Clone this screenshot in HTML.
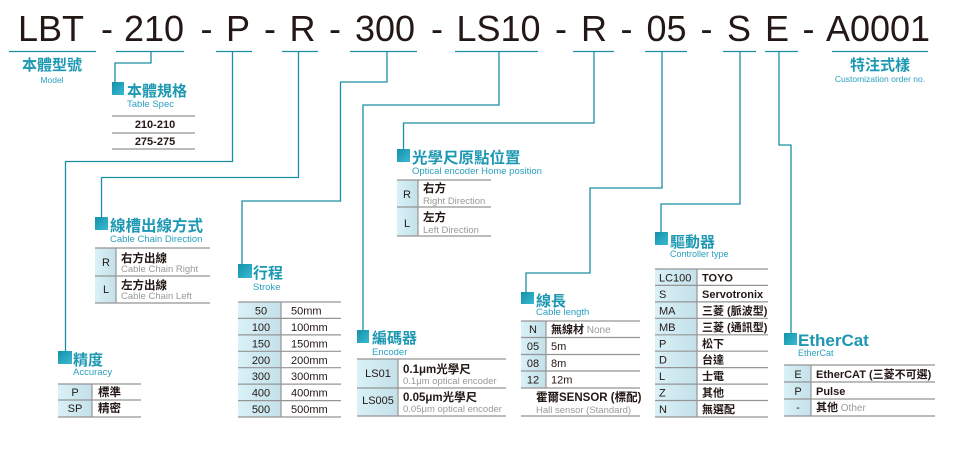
<!DOCTYPE html>
<html>
<head>
<meta charset="utf-8">
<style>
html,body{margin:0;padding:0;background:#fff;}
svg{display:block;}
.t{font-family:"Liberation Sans","Noto Sans CJK TC",sans-serif;fill:#231815;}
.h{font-family:"Liberation Sans","Noto Sans CJK TC",sans-serif;font-weight:bold;fill:#1d98b2;}
.s{font-family:"Liberation Sans","Noto Sans CJK TC",sans-serif;fill:#2aa0bf;}
.c{font-family:"Liberation Sans","Noto Sans CJK TC",sans-serif;fill:#231815;font-size:11px;}
.b{font-family:"Liberation Sans","Noto Sans CJK TC",sans-serif;fill:#231815;font-size:11.5px;font-weight:bold;}
.g{font-family:"Liberation Sans","Noto Sans CJK TC",sans-serif;fill:#999;font-size:9.5px;}
.conn{fill:none;stroke:#1a8fa2;stroke-width:1.3;}
.gl{stroke:#959595;stroke-width:1.2;}
</style>
</head>
<body>
<svg width="960" height="453" viewBox="0 0 960 453" xmlns="http://www.w3.org/2000/svg">
<defs>
<linearGradient id="sq" x1="0" y1="0" x2="1" y2="1">
<stop offset="0" stop-color="#1291a9"/>
<stop offset="1" stop-color="#3cbad3"/>
</linearGradient>
<linearGradient id="cell" x1="0" y1="0" x2="1" y2="0">
<stop offset="0" stop-color="#d9f1f7"/>
<stop offset="1" stop-color="#c4e0e9"/>
</linearGradient>
</defs>

<!-- Title -->
<g class="t" font-size="36" text-anchor="middle">
<text x="51" y="41">LBT</text>
<text x="107" y="41">-</text>
<text x="154" y="41">210</text>
<text x="206.5" y="41">-</text>
<text x="238" y="41">P</text>
<text x="270" y="41">-</text>
<text x="302.5" y="41">R</text>
<text x="335" y="41">-</text>
<text x="385" y="41">300</text>
<text x="437" y="41">-</text>
<text x="498.5" y="41">LS10</text>
<text x="561" y="41">-</text>
<text x="594" y="41">R</text>
<text x="626.5" y="41">-</text>
<text x="666.5" y="41">05</text>
<text x="706.5" y="41">-</text>
<text x="739" y="41">S</text>
<text x="777" y="41">E</text>
<text x="808.5" y="41">-</text>
<text x="878" y="41">A0001</text>
</g>

<!-- underlines -->
<g stroke="#1a8fa2" stroke-width="1.2">
<line x1="9" y1="51.5" x2="96" y2="51.5"/>
<line x1="116" y1="51.5" x2="184" y2="51.5"/>
<line x1="216" y1="51.5" x2="252" y2="51.5"/>
<line x1="282" y1="51.5" x2="318" y2="51.5"/>
<line x1="350" y1="51.5" x2="417" y2="51.5"/>
<line x1="455" y1="51.5" x2="538" y2="51.5"/>
<line x1="573" y1="51.5" x2="614" y2="51.5"/>
<line x1="645" y1="51.5" x2="687" y2="51.5"/>
<line x1="723" y1="51.5" x2="756" y2="51.5"/>
<line x1="765" y1="51.5" x2="798" y2="51.5"/>
<line x1="832" y1="51.5" x2="928" y2="51.5"/>
</g>

<!-- connectors -->
<path class="conn" d="M232.5,52 V161.5 H65.5 V351"/>
<path class="conn" d="M151,52 V63 H115 V82"/>
<path class="conn" d="M298.5,52 V177.5 H101.5 V217"/>
<path class="conn" d="M387,52 V82 H340.5 V201 H242 V264"/>
<path class="conn" d="M499,52 V105 H363 V330"/>
<path class="conn" d="M594,52 V123 H403.5 V149"/>
<path class="conn" d="M662,52 V188 H590 V273 H526 V292"/>
<path class="conn" d="M740,52 V204 H661 V232"/>
<path class="conn" d="M779,52 V145 H791 V333"/>

<!-- 本體型號 -->
<text class="h" x="52" y="70" font-size="15" text-anchor="middle">本體型號</text>
<text class="s" x="52" y="83" font-size="8.5" text-anchor="middle">Model</text>

<!-- 特注式樣 -->
<text class="h" x="880" y="70" font-size="15" text-anchor="middle">特注式樣</text>
<text class="s" x="880" y="82" font-size="8.5" text-anchor="middle">Customization order no.</text>

<!-- 本體規格 -->
<rect x="112" y="82" width="12" height="13" fill="url(#sq)"/>
<text class="h" x="127" y="96" font-size="15">本體規格</text>
<text class="s" x="127" y="107" font-size="9.5">Table Spec</text>
<line class="gl" x1="112" y1="116" x2="195" y2="116"/>
<line class="gl" x1="112" y1="133" x2="195" y2="133"/>
<line class="gl" x1="112" y1="149" x2="195" y2="149"/>
<text class="c" x="155" y="128" text-anchor="middle" font-weight="bold">210-210</text>
<text class="c" x="155" y="145" text-anchor="middle" font-weight="bold">275-275</text>

<!-- 線槽出線方式 -->
<rect x="95" y="217" width="13" height="13" fill="url(#sq)"/>
<text class="h" x="110" y="231" font-size="15.5">線槽出線方式</text>
<text class="s" x="110" y="242" font-size="9.5">Cable Chain Direction</text>
<rect x="95" y="248" width="21" height="55" fill="url(#cell)"/>
<line class="gl" x1="95" y1="248" x2="210" y2="248"/>
<line class="gl" x1="95" y1="276" x2="210" y2="276"/>
<line class="gl" x1="95" y1="303" x2="210" y2="303"/>
<line class="gl" x1="116" y1="248" x2="116" y2="303"/>
<text class="c" x="106" y="266" text-anchor="middle">R</text>
<text class="c" x="106" y="293" text-anchor="middle">L</text>
<text class="b" x="121" y="262">右方出線</text>
<text class="g" x="121" y="272">Cable Chain Right</text>
<text class="b" x="121" y="289">左方出線</text>
<text class="g" x="121" y="299">Cable Chain Left</text>

<!-- 精度 -->
<rect x="58" y="351" width="14" height="13" fill="url(#sq)"/>
<text class="h" x="73" y="365" font-size="15">精度</text>
<text class="s" x="73" y="375" font-size="9.5">Accuracy</text>
<rect x="58" y="384" width="34" height="33" fill="url(#cell)"/>
<line class="gl" x1="58" y1="384" x2="141" y2="384"/>
<line class="gl" x1="58" y1="400" x2="141" y2="400"/>
<line class="gl" x1="58" y1="417" x2="141" y2="417"/>
<line class="gl" x1="92" y1="384" x2="92" y2="417"/>
<text class="c" x="75" y="396" text-anchor="middle">P</text>
<text class="c" x="75" y="412" text-anchor="middle">SP</text>
<text class="b" x="98" y="396" font-size="11">標準</text>
<text class="b" x="98" y="412" font-size="11">精密</text>

<!-- 行程 -->
<rect x="238" y="264" width="14" height="14" fill="url(#sq)"/>
<text class="h" x="253" y="278" font-size="15">行程</text>
<text class="s" x="253" y="290" font-size="9.5">Stroke</text>
<rect x="238" y="302" width="43" height="115" fill="url(#cell)"/>
<g>
<line class="gl" x1="238" y1="302" x2="341" y2="302"/>
<line class="gl" x1="238" y1="318.4" x2="341" y2="318.4"/>
<line class="gl" x1="238" y1="334.9" x2="341" y2="334.9"/>
<line class="gl" x1="238" y1="351.3" x2="341" y2="351.3"/>
<line class="gl" x1="238" y1="367.7" x2="341" y2="367.7"/>
<line class="gl" x1="238" y1="384.1" x2="341" y2="384.1"/>
<line class="gl" x1="238" y1="400.6" x2="341" y2="400.6"/>
<line class="gl" x1="238" y1="417" x2="341" y2="417"/>
<line class="gl" x1="281" y1="302" x2="281" y2="417"/>
</g>
<g class="c" font-size="11.5">
<text x="261" y="314.5" text-anchor="middle">50</text>
<text x="261" y="331" text-anchor="middle">100</text>
<text x="261" y="347.4" text-anchor="middle">150</text>
<text x="261" y="363.8" text-anchor="middle">200</text>
<text x="261" y="380.2" text-anchor="middle">300</text>
<text x="261" y="396.6" text-anchor="middle">400</text>
<text x="261" y="413" text-anchor="middle">500</text>
<text x="291" y="314.5">50mm</text>
<text x="291" y="331">100mm</text>
<text x="291" y="347.4">150mm</text>
<text x="291" y="363.8">200mm</text>
<text x="291" y="380.2">300mm</text>
<text x="291" y="396.6">400mm</text>
<text x="291" y="413">500mm</text>
</g>

<!-- 編碼器 -->
<rect x="357" y="330" width="12" height="13" fill="url(#sq)"/>
<text class="h" x="372" y="343" font-size="15">編碼器</text>
<text class="s" x="372" y="355" font-size="9.5">Encoder</text>
<rect x="357" y="359" width="41" height="57" fill="url(#cell)"/>
<line class="gl" x1="357" y1="359" x2="506" y2="359"/>
<line class="gl" x1="357" y1="388" x2="506" y2="388"/>
<line class="gl" x1="357" y1="416" x2="506" y2="416"/>
<line class="gl" x1="398" y1="359" x2="398" y2="416"/>
<text class="c" x="378" y="377" text-anchor="middle">LS01</text>
<text class="c" x="378" y="404" text-anchor="middle">LS005</text>
<text class="b" x="403" y="373" font-size="12">0.1μm光學尺</text>
<text class="g" x="403" y="384">0.1μm optical encoder</text>
<text class="b" x="403" y="401" font-size="12">0.05μm光學尺</text>
<text class="g" x="403" y="412">0.05μm optical encoder</text>

<!-- 光學尺原點位置 -->
<rect x="397" y="149" width="13" height="13" fill="url(#sq)"/>
<text class="h" x="412" y="163" font-size="15.5">光學尺原點位置</text>
<text class="s" x="412" y="174" font-size="9.5">Optical encoder Home position</text>
<rect x="397" y="180" width="21" height="56" fill="url(#cell)"/>
<line class="gl" x1="397" y1="180" x2="491" y2="180"/>
<line class="gl" x1="397" y1="207" x2="491" y2="207"/>
<line class="gl" x1="397" y1="236" x2="491" y2="236"/>
<line class="gl" x1="418" y1="180" x2="418" y2="236"/>
<text class="c" x="407" y="198" text-anchor="middle">R</text>
<text class="c" x="407" y="227" text-anchor="middle">L</text>
<text class="b" x="423" y="192" font-size="11">右方</text>
<text class="g" x="423" y="204">Right Direction</text>
<text class="b" x="423" y="221" font-size="11">左方</text>
<text class="g" x="423" y="233">Left Direction</text>

<!-- 線長 -->
<rect x="521" y="292" width="13" height="12" fill="url(#sq)"/>
<text class="h" x="536" y="306" font-size="15">線長</text>
<text class="s" x="536" y="315" font-size="9.5">Cable length</text>
<rect x="521" y="321" width="25" height="67" fill="url(#cell)"/>
<line class="gl" x1="521" y1="321" x2="640" y2="321"/>
<line class="gl" x1="521" y1="337.5" x2="640" y2="337.5"/>
<line class="gl" x1="521" y1="354.5" x2="640" y2="354.5"/>
<line class="gl" x1="521" y1="371" x2="640" y2="371"/>
<line class="gl" x1="521" y1="388" x2="640" y2="388"/>
<line class="gl" x1="521" y1="416" x2="640" y2="416"/>
<line class="gl" x1="546" y1="321" x2="546" y2="388"/>
<g class="c" font-size="11.5">
<text x="533" y="333" text-anchor="middle">N</text>
<text x="533" y="350" text-anchor="middle">05</text>
<text x="533" y="367" text-anchor="middle">08</text>
<text x="533" y="383.5" text-anchor="middle">12</text>
<text x="551" y="333" font-weight="bold">無線材<tspan fill="#999" font-weight="normal" font-size="10"> None</tspan></text>
<text x="551" y="350">5m</text>
<text x="551" y="367">8m</text>
<text x="551" y="383.5">12m</text>
</g>
<text class="b" x="536" y="401" font-size="11.5">霍爾SENSOR (標配)</text>
<text class="g" x="536" y="413">Hall sensor (Standard)</text>

<!-- 驅動器 -->
<rect x="655" y="232" width="13" height="13" fill="url(#sq)"/>
<text class="h" x="670" y="247" font-size="15">驅動器</text>
<text class="s" x="670" y="257" font-size="9">Controller type</text>
<rect x="655" y="269" width="42" height="148" fill="url(#cell)"/>
<g>
<line class="gl" x1="655" y1="269" x2="768" y2="269"/>
<line class="gl" x1="655" y1="285.4" x2="768" y2="285.4"/>
<line class="gl" x1="655" y1="301.9" x2="768" y2="301.9"/>
<line class="gl" x1="655" y1="318.3" x2="768" y2="318.3"/>
<line class="gl" x1="655" y1="334.8" x2="768" y2="334.8"/>
<line class="gl" x1="655" y1="351.2" x2="768" y2="351.2"/>
<line class="gl" x1="655" y1="367.6" x2="768" y2="367.6"/>
<line class="gl" x1="655" y1="384.1" x2="768" y2="384.1"/>
<line class="gl" x1="655" y1="400.5" x2="768" y2="400.5"/>
<line class="gl" x1="655" y1="417" x2="768" y2="417"/>
<line class="gl" x1="697" y1="269" x2="697" y2="417"/>
</g>
<g class="c" font-size="11">
<text x="659" y="281.5">LC100</text>
<text x="659" y="298">S</text>
<text x="659" y="314.4">MA</text>
<text x="659" y="330.8">MB</text>
<text x="659" y="347.3">P</text>
<text x="659" y="363.7">D</text>
<text x="659" y="380.1">L</text>
<text x="659" y="396.6">Z</text>
<text x="659" y="413">N</text>
</g>
<g class="c" font-size="11" font-weight="bold">
<text x="702" y="281.5">TOYO</text>
<text x="702" y="298">Servotronix</text>
<text x="702" y="314.4">三菱 (脈波型)</text>
<text x="702" y="330.8">三菱 (通訊型)</text>
<text x="702" y="347.3">松下</text>
<text x="702" y="363.7">台達</text>
<text x="702" y="380.1">士電</text>
<text x="702" y="396.6">其他</text>
<text x="702" y="413">無選配</text>
</g>

<!-- EtherCat -->
<rect x="784" y="333" width="13" height="12" fill="url(#sq)"/>
<text class="h" x="798" y="346" font-size="17">EtherCat</text>
<text class="s" x="798" y="356" font-size="9">EtherCat</text>
<rect x="784" y="365" width="27" height="51" fill="url(#cell)"/>
<line class="gl" x1="784" y1="365" x2="935" y2="365"/>
<line class="gl" x1="784" y1="382" x2="935" y2="382"/>
<line class="gl" x1="784" y1="399" x2="935" y2="399"/>
<line class="gl" x1="784" y1="416" x2="935" y2="416"/>
<line class="gl" x1="811" y1="365" x2="811" y2="416"/>
<g class="c" font-size="11.5">
<text x="798" y="378" text-anchor="middle">E</text>
<text x="798" y="395" text-anchor="middle">P</text>
<text x="798" y="411" text-anchor="middle">-</text>
<text x="816" y="378" font-weight="bold">EtherCAT (三菱不可選)</text>
<text x="816" y="395" font-weight="bold">Pulse</text>
<text x="816" y="411" font-weight="bold">其他<tspan fill="#999" font-weight="normal" font-size="10"> Other</tspan></text>
</g>
</svg>
</body>
</html>
